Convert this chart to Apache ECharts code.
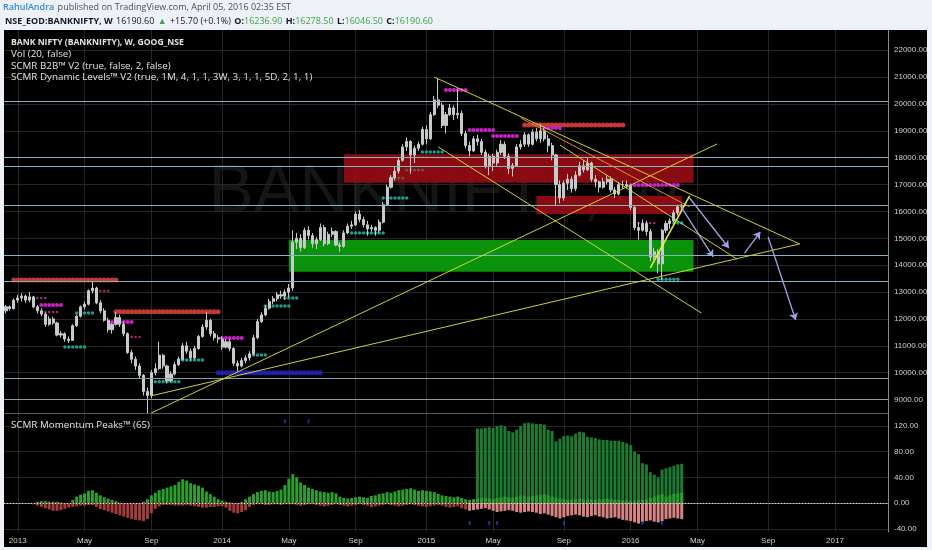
<!DOCTYPE html>
<html><head><meta charset="utf-8">
<script src="https://cdn.jsdelivr.net/npm/echarts@6/dist/echarts.min.js"></script>
<style>html,body{margin:0;padding:0;background:#eef1f6;}#c{width:932px;height:550px;}</style>
</head><body><div id="c"></div>
<script>
// ---------- DATA ----------
const firstWeek = '2012-12-17';
const weekCount = 225;
const monthNames = ['Jan','Feb','Mar','Apr','May','Jun','Jul','Aug','Sep','Oct','Nov','Dec'];
const labelMonths = [0, 4, 8];
const watermark = 'BANKNIFTY, W';
// weekly candles [open, close, low, high]
const ohlc = [
[12300,12450,12200,12520],[12450,12380,12300,12500],[12380,12700,12350,12760],
[12700,12780,12600,12900],[12780,12850,12650,12950],[12850,12700,12600,12900],[12700,12820,12620,13000],
[12820,12450,12400,12860],[12450,12300,12200,12520],[12300,12180,12100,12400],[12180,11800,11700,12250],
[11800,12000,11750,12100],[12000,11850,11780,12080],[11850,11400,11350,11900],[11400,11450,11300,11550],
[11450,11250,11150,11500],[11250,11200,11100,11350],[11200,11750,11180,11800],[11750,12100,11700,12150],[12100,12450,12050,12500],
[12450,12550,12350,12650],[12550,13050,12500,13100],[13050,13150,12950,13400],[13150,12600,12550,13200],
[12600,12300,12200,12700],[12300,11950,11900,12400],[11950,11600,11500,12050],[11600,11800,11450,11850],
[11800,12050,11750,12250],[12050,11800,11700,12150],[11800,11450,11350,11900],[11450,10750,10700,11500],[10750,10500,10350,10850],
[10500,10250,10100,10600],[10250,9900,9800,10350],[9900,9300,9150,9950],[9300,9150,8500,9450],
[9150,10000,9050,10100],[10000,10150,9900,10350],[10150,10650,10100,11150],[10650,10250,10150,10700],[10250,9700,9600,10300],
[9700,9950,9650,10050],[9950,10300,9900,10400],[10300,10500,10250,10600],[10500,11000,10450,11100],
[11000,10800,10700,11150],[10800,10550,10450,10900],[10550,10900,10500,11000],[10900,11350,10850,11400],
[11350,11700,11300,11800],[11700,11950,11600,12250],[11950,11450,11350,12000],[11450,11300,11200,11550],[11300,11250,11100,11400],
[11250,10950,10850,11350],[10950,11150,10900,11250],[11150,10900,10800,11250],[10900,10350,10250,10950],
[10350,10250,10050,10450],[10250,10450,10200,10550],[10450,10550,10350,10650],[10550,10700,10450,10800],
[10700,11300,10650,11400],[11300,11900,11250,12000],[11900,12150,11850,12250],[12150,12400,12100,12500],[12400,12650,12350,12750],
[12650,12750,12550,12850],[12750,12900,12650,13000],[12900,12850,12750,13050],[12850,13000,12700,13100],
[13000,13150,12800,13300],[13150,14850,13050,15300],[14850,15000,14600,15200],[15000,14650,14500,15150],
[14650,15300,14600,15400],[15300,15100,14950,15450],[15100,14800,14650,15200],[14800,14950,14600,15050],[14950,15400,14900,15550],
[15400,14800,14700,15500],[14800,15150,14750,15250],[15150,15250,15050,15400],[15250,14750,14700,15300],
[14750,14700,14500,14850],[14700,15200,14650,15300],[15200,15450,15150,15550],[15450,15500,15350,15650],
[15500,15900,15450,16000],[15900,15700,15600,16050],[15700,15500,15400,15800],[15500,15350,15100,15650],[15350,15400,15250,15500],
[15400,15300,15100,15450],[15300,15600,15200,15700],[15600,16250,15550,16350],[16250,16900,16200,17000],
[16900,17250,16850,17350],[17250,17500,17150,17650],[17500,17900,17400,18000],[17900,18400,17850,18500],
[18400,18600,18250,18750],[18600,18100,17400,18650],[18100,18350,17800,18450],[18350,18500,18250,18600],[18500,19050,18450,19150],
[19050,18700,18500,19200],[18700,19600,18650,19700],[19600,20150,19550,20300],[20150,19950,19850,20950],
[19950,19200,19100,20050],[19200,19600,18900,19700],[19600,19850,19550,20000],[19850,19600,19400,19950],
[19600,19650,19450,20550],[19650,18900,18800,19750],[18900,18450,18350,19000],[18450,18250,18050,18600],[18250,18700,18200,18800],
[18700,18600,18450,18850],[18600,18200,18100,18700],[18200,17700,17600,18300],[17700,18050,17350,18150],
[18050,17800,17500,18150],[17800,18200,17700,18300],[18200,18500,18100,18650],[18500,18050,17950,18600],
[18050,17600,17400,18150],[17600,17700,17300,17800],[17700,18400,17650,18500],[18400,18500,18300,18650],[18500,18850,18400,18950],
[18850,18500,18400,18900],[18500,18950,18450,19050],[18950,18700,18600,19100],[18700,19000,18550,19250],
[19000,18700,18600,19100],[18700,18450,18200,18850],[18450,18100,17900,18550],[18100,17000,16200,18150],[17000,16500,16300,17150],
[16500,17050,16400,17150],[17050,17200,16800,17400],[17200,16850,16700,17300],[16850,17350,16750,17500],
[17350,17700,17300,17850],[17700,17550,17450,17900],[17550,17800,17500,18000],[17800,17200,17100,17850],
[17200,17100,16900,17350],[17100,16900,16700,17150],[16900,17100,16850,17250],[17100,17200,17000,17350],[17200,16800,16700,17300],
[16800,16650,16500,16900],[16650,17000,16600,17100],[17000,17000,16850,17150],[17000,16950,16850,17150],
[16950,16150,16050,17000],[16150,15400,15300,16200],[15400,15300,14950,15600],[15300,15550,15250,15700],
[15550,15250,15100,15650],[15250,14300,14150,15350],[14300,14500,14200,14650],[14500,14050,13700,14600],[14050,15300,13450,15350],
[15300,15550,15200,15650],[15550,15650,15350,15750],[15650,15950,15600,16050],[15950,16174.9,15850,16250],
[16236.9,16190.6,16046.5,16278.5]
];
const priceMin = 8500, priceMax = 22750, priceStep = 250, priceLabelStep = 1000;
const momMin = -45, momMax = 140, momStep = 5, momLabelStep = 40;

// horizontal level lines (price)
const levelLines = [20099.18, 18025, 17686.97, 16232.36, 14377.90, 13386.56, 9793, 9006];
// right-axis tags: [text value, price where the tag sits, kind]
const axisTags = [[20099.18, 20099.18, 'c'], [17686.97, 17914, 'c'], [16232.36, 16612, 'c'], [16190.60, 16203, 'g'], [14377.90, 10772, 'c'], [13386.56, 9953, 'c']];
// zones [from, to, top, bottom]
const redZones = [['2014-08-11', '2016-04-25', 18125, 17069], ['2015-07-20', '2016-04-04', 16574, 15904]];
const greenZones = [['2014-05-05', '2016-04-25', 14937, 13757]];
// dotted level rows [from, to, price]
const redLevels = [['2012-12-31','2013-07-01',13448],['2013-07-01','2013-12-30',12269],['2015-06-29','2015-12-21',19215]];
const blueLevels = [['2013-12-30','2014-06-30',10000]];
const magentaLevels = [['2013-02-18','2013-03-25',12520],['2013-06-24','2013-07-29',11890],['2014-01-06','2014-02-10',11290],
  ['2015-02-09','2015-03-16',20520],['2015-03-23','2015-05-04',19030],['2015-05-04','2015-06-15',18810],['2015-08-03','2015-08-31',19100],['2016-01-04','2016-03-28',16980]];
const pinkLevels = [['2013-02-04','2013-02-25',12780],['2013-02-25','2013-03-18',12260],['2013-05-27','2013-06-17',13040],['2013-07-22','2013-08-12',11330],['2016-01-18','2016-02-15',15570]];
const tealLevels = [['2013-04-01','2013-05-06',10960],['2013-04-22','2013-05-20',12220],['2013-09-09','2013-10-21',9660],['2013-10-21','2013-12-02',10470],
  ['2014-03-03','2014-03-24',10660],['2014-03-24','2014-05-05',12480],['2014-04-28','2014-05-19',12780],['2014-12-29','2015-02-02',18210],
  ['2014-10-20','2014-12-01',16500],['2014-08-25','2014-10-20',15200],['2016-03-21','2016-04-04',15570],['2016-02-22','2016-03-28',13480]];
const faintLevels = [['2014-11-03','2014-11-24',17244],['2014-12-01','2014-12-29',17540]];
// trend lines [from, price, to, price, colour key]
const trendLines = [
  ['2013-09-02', 9140, '2016-10-31', 14790, 'y'],
  ['2013-09-02', 8500, '2016-06-06', 18510, 'y'],
  ['2015-01-19', 21000, '2016-10-31', 14790, 'y'],
  ['2015-01-26', 18400, '2016-05-09', 12220, 'y'],
  ['2015-06-22', 19480, '2016-04-18', 16170, 'o'],
  ['2015-08-31', 18470, '2016-07-11', 14230, 'y'],
  ['2016-02-08', 13900, '2016-04-18', 16580, 'b']
];
const arrows = [
  ['2016-04-04', 16130, '2016-05-30', 14310],
  ['2016-04-18', 16500, '2016-06-27', 14640],
  ['2016-07-25', 14450, '2016-08-22', 15240],
  ['2016-09-05', 15050, '2016-10-24', 11960]
];
// momentum pane
const momGreen = [
0,0,0,0,0,0,0,0,2,3, 3,2,2,2,1,0,0,5,10,13, 15,19,20,16,12,9,7,5,3,1, 0,0,0,0,0,2,6,12,16,20,
22,24,26,28,33,37,35,31,29,27, 24,18,14,10,6,4,2,1,0,0, 2,6,10,14,17,19,20,18,17,19, 21,28,38,45,40,32,28,24,22,20,
18,17,16,17,15,10,8,7,8,9, 10,9,8,11,12,14,15,17,16,18, 20,21,22,23,21,19,20,19,18,17, 14,12,11,10,9,10,8,6,5,6,
7,8,8,7,6,8,9,10,9,8, 10,12,11,10,11,12,13,14,12,10, 8,7,6,5,5,6,7,6,6,5, 5,6,6,7,6,5,5,4,4,3, 3,4,5,6,8,10,12,14,10,12, 14,15,16];
const momNeg = [
0,0,0,0,0,0,0,-2,-4,-6, -8,-10,-12,-12,-11,-9,-7,-6,-5,-4, -4,-3,-3,-6,-9,-11,-13,-15,-17,-19, -21,-23,-25,-26,-27,-28,-25,-16,-9,-5,
-3,-3,-3,-4,-4,-4,-3,-4,-5,-6, -7,-7,-6,-6,-5,-5,-7,-12,-15,-16, -14,-11,-6,-3,-2,-2,-3,-3,-2,-2, -3,-2,-2,-2,-3,-4,-3,-2,-2,-3,
-4,-5,-4,-3,-2,-3,-4,-5,-4,-3, -2,-3,-4,-6,-5,-4,-3,-2,-3,-4, -5,-4,-3,-2,-3,-4,-5,-6,-5,-4, -3,-4,-6,-7,-6,-5,-8,-10,-12,-11,
-10,-9,-8,-10,-12,-14,-13,-12,-11,-12, -14,-15,-14,-13,-14,-15,-17,-16,-18,-20, -22,-24,-22,-20,-19,-18,-19,-21,-22,-20,
-19,-21,-22,-24,-23,-22,-24,-26,-27,-28, -30,-32,-30,-28,-27,-29,-30,-28,-25,-24, -23,-24,-25];
const peakStart = '2015-04-06';
const peakValues = [116,116,117,118,117,120,121,119,112,110,114,120,124,125,124,123,123,122,114,112,96,100,104,105,104,108,111,110,103,102,101,99,98,98,97,97,97,95,93,90,80,76,62,60,48,44,40,52,54,56,58,60,61];
const blueMarks = [['2014-04-28',127],['2014-06-09',127],['2015-03-23',-31],['2015-04-27',-31],['2015-05-11',-31],['2015-09-07',-31],['2016-01-25',-31],['2016-02-29',-31]];

// ---------- BUILD ----------
const weeks = [];
{ const b = new Date(firstWeek + 'T00:00:00Z');
  for (let i = 0; i < weekCount; i++) { const d = new Date(b.getTime() + i * 7 * 864e5); weeks.push(d.toISOString().slice(0, 10)); } }
const isMark = (i) => { const s = weeks[i]; const m = +s.slice(5, 7) - 1, d = +s.slice(8, 10); return d <= 7 && labelMonths.includes(m); };
const fmtX = (v) => { const m = +v.slice(5, 7) - 1; return m === 0 ? v.slice(0, 4) : monthNames[m]; };
function rowPoints(rows, step) {
  const pts = [];
  rows.forEach(([a, b, p]) => { const s = weeks.indexOf(a), e = weeks.indexOf(b); for (let i = s; i <= e; i += step) pts.push([weeks[i], p]); });
  return pts;
}
const peakData = weeks.map(() => null);
{ const s = weeks.indexOf(peakStart); peakValues.forEach((v, k) => { peakData[s + k] = v; }); }

const last = ohlc[ohlc.length - 1], prev = ohlc[ohlc.length - 2];
const chg = last[1] - prev[1];

const FONT = 'Liberation Sans, Arial, sans-serif';
const UI = 'Open Sans, Liberation Sans, sans-serif';
const lineCol = { y: '#d9d93a', o: '#e0952c', b: '#f2f23c' };

const levelMark = levelLines.map(v => ({ yAxis: v, lineStyle: { color: v < 10000 ? '#8a9ca4' : '#86b4c4', width: 1, type: 'solid' } }));
const tagMark = axisTags.map(([val, at, k]) => ({
  yAxis: at, lineStyle: { opacity: 0 },
  label: { show: true, position: 'end', distance: 1, formatter: val.toFixed(2), fontFamily: FONT, fontSize: 8,
    color: '#10232b', backgroundColor: k === 'g' ? '#bdbdbd' : '#8fd0de', padding: [2, 3, 1, 3] }
}));
const trendMark = trendLines.map(([d1, p1, d2, p2, k]) => [
  { coord: [d1, p1], lineStyle: { color: lineCol[k], width: k === 'b' ? 1.6 : 1, type: 'solid', opacity: 0.95 } },
  { coord: [d2, p2] }
]);
const arrowMark = arrows.map(([d1, p1, d2, p2]) => [{ coord: [d1, p1] }, { coord: [d2, p2] }]);
const zoneMark = redZones.map(([a, b, t, bt]) => [{ xAxis: a, yAxis: t, itemStyle: { color: '#960b12', opacity: 0.92 } }, { xAxis: b, yAxis: bt }])
  .concat(greenZones.map(([a, b, t, bt]) => [{ xAxis: a, yAxis: t, itemStyle: { color: '#0c9a0c', opacity: 0.95 } }, { xAxis: b, yAxis: bt }]));

const dotSeries = (name, rows, color, size, step, op) => ({
  name, type: 'scatter', xAxisIndex: 0, yAxisIndex: 0, data: rowPoints(rows, step), symbol: 'circle', symbolSize: size,
  itemStyle: { color, opacity: op }, silent: true, z: 3
});

const priceSplitColors = []; for (let k = 0; k < priceLabelStep / priceStep; k++) priceSplitColors.push('transparent');
priceSplitColors[((9000 - priceMin) / priceStep) % priceSplitColors.length] = '#262626';
const momSplitColors = []; for (let k = 0; k < momLabelStep / momStep; k++) momSplitColors.push('transparent');
momSplitColors[((0 - momMin) / momStep) % momSplitColors.length] = '#262626';

const option = {
  backgroundColor: '#000',
  animation: false,
  grid: [
    { left: 4, top: 30, width: 884, height: 383 },
    { left: 4, top: 413, width: 884, height: 119 }
  ],
  xAxis: [
    { type: 'category', gridIndex: 0, data: weeks, boundaryGap: true,
      axisLine: { show: true, lineStyle: { color: '#555', width: 1 } }, axisTick: { show: false }, axisLabel: { show: false },
      splitLine: { show: true, interval: isMark, alignWithLabel: true, lineStyle: { color: '#262626', width: 1 } } },
    { type: 'category', gridIndex: 1, data: weeks, boundaryGap: true,
      axisLine: { show: true, lineStyle: { color: '#7a7a7a', width: 1 } }, axisTick: { show: false },
      axisLabel: { show: true, interval: isMark, formatter: fmtX, color: '#cfcfcf', fontFamily: FONT, fontSize: 8, margin: 5 },
      splitLine: { show: true, interval: isMark, alignWithLabel: true, lineStyle: { color: '#262626', width: 1 } } }
  ],
  yAxis: [
    { type: 'value', gridIndex: 0, position: 'right', min: priceMin, max: priceMax, interval: priceStep, scale: true,
      axisLine: { show: true, lineStyle: { color: '#8a8a8a' } }, axisTick: { show: false },
      axisLabel: { color: '#cfcfcf', fontFamily: FONT, fontSize: 8, margin: 6,
        formatter: v => (Math.abs(v % priceLabelStep) < 1e-6 && v > priceMin && v < priceMax) ? v.toFixed(2) : '' },
      splitLine: { show: true, lineStyle: { color: priceSplitColors, width: 1 } } },
    { type: 'value', gridIndex: 1, position: 'right', min: momMin, max: momMax, interval: momStep,
      axisLine: { show: true, lineStyle: { color: '#8a8a8a' } }, axisTick: { show: false },
      axisLabel: { color: '#cfcfcf', fontFamily: FONT, fontSize: 8, margin: 6,
        formatter: v => (Math.abs(v % momLabelStep) < 1e-6 && v > momMin && v < momMax) ? v.toFixed(2) : '' },
      splitLine: { show: true, lineStyle: { color: momSplitColors, width: 1 } } }
  ],
  series: [
    { name: 'BANKNIFTY', type: 'candlestick', xAxisIndex: 0, yAxisIndex: 0, data: ohlc, barWidth: 2.6, z: 4,
      itemStyle: { color: '#c6caca', color0: '#c6caca', borderColor: '#c6caca', borderColor0: '#c6caca', borderWidth: 1 },
      markArea: { silent: true, data: zoneMark },
      markLine: { silent: true, symbol: ['none', 'none'], label: { show: false }, animation: false,
        data: levelMark.concat(tagMark).concat(trendMark) } },
    { name: 'arrows', type: 'line', xAxisIndex: 0, yAxisIndex: 0, data: [], z: 6,
      markLine: { silent: true, symbol: ['none', 'arrow'], symbolSize: 7, label: { show: false }, animation: false,
        lineStyle: { color: '#9ea6e6', width: 1.3, type: 'solid' }, data: arrowMark } },
    dotSeries('red', redLevels, '#cc3b36', 5, 1, 0.95),
    dotSeries('blue', blueLevels, '#1f22b0', 5, 1, 0.95),
    dotSeries('magenta', magentaLevels, '#d422d4', 4, 1, 0.95),
    dotSeries('pink', pinkLevels, '#b8307c', 2.5, 1, 0.9),
    dotSeries('teal', tealLevels, '#1fa394', 3.5, 1, 0.95),
    dotSeries('faint', faintLevels, '#6e5858', 3, 1, 0.9),
    { name: 'peaks', type: 'bar', xAxisIndex: 1, yAxisIndex: 1, data: peakData, barWidth: 3, barGap: '-100%',
      itemStyle: { color: '#1d7a33' }, silent: true },
    { name: 'momUp', type: 'bar', xAxisIndex: 1, yAxisIndex: 1, data: momGreen, barWidth: 3, barGap: '-100%',
      itemStyle: { color: '#2c9e30' }, silent: true },
    { name: 'momDown', type: 'bar', xAxisIndex: 1, yAxisIndex: 1, data: momNeg, barWidth: 3, barGap: '-100%',
      itemStyle: { color: p => p.dataIndex < 118 ? '#a63c3c' : '#d98484' }, silent: true,
      markLine: { silent: true, symbol: ['none', 'none'], label: { show: false },
        lineStyle: { color: '#dddddd', type: [1, 2], width: 1 }, data: [{ yAxis: 0 }] } },
    { name: 'marks', type: 'scatter', xAxisIndex: 1, yAxisIndex: 1, data: blueMarks, symbol: 'rect', symbolSize: [2, 4],
      itemStyle: { color: '#2a34d0' }, silent: true }
  ],
  graphic: [
    { type: 'text', x: 446, y: 193, z: -1, silent: true,
      style: { text: watermark, fill: '#151515', font: '68px ' + FONT, align: 'center', verticalAlign: 'middle' } },
    { type: 'rect', shape: { x: 0, y: 0, width: 932, height: 30 }, style: { fill: '#eef1f6' }, z: 100, silent: true },
    { type: 'rect', shape: { x: 0, y: 30, width: 4, height: 520 }, style: { fill: '#eef1f6' }, z: 100, silent: true },
    { type: 'rect', shape: { x: 927, y: 30, width: 5, height: 520 }, style: { fill: '#eef1f6' }, z: 100, silent: true },
    { type: 'rect', shape: { x: 0, y: 547, width: 932, height: 3 }, style: { fill: '#eef1f6' }, z: 100, silent: true },
    { type: 'text', x: 3, y: 7, z: 101, silent: true,
      style: { text: '{a|RahulAndra} {b|published on TradingView.com, April 05, 2016 02:35 EST}', verticalAlign: 'middle',
        rich: { a: { fill: '#2d8bd6', fontSize: 9, fontFamily: UI, fontWeight: 600 }, b: { fill: '#4b4f56', fontSize: 9, fontFamily: UI } } } },
    { type: 'text', x: 5, y: 21, z: 101, silent: true,
      style: { text: '{k|NSE_EOD:BANKNIFTY, W} {v|' + last[1].toFixed(2) + '} {g|▲} {v|+' + chg.toFixed(2) + ' (+' + (chg / prev[1] * 100).toFixed(1) + '%)} ' +
          '{k|O:}{n|' + last[0].toFixed(2) + '} {k|H:}{n|' + last[3].toFixed(2) + '} {k|L:}{n|' + last[2].toFixed(2) + '} {k|C:}{n|' + last[1].toFixed(2) + '}',
        verticalAlign: 'middle',
        rich: { k: { fill: '#131722', fontSize: 9, fontFamily: UI, fontWeight: 700 }, v: { fill: '#131722', fontSize: 9, fontFamily: UI },
          g: { fill: '#3aa64a', fontSize: 9, fontFamily: UI }, n: { fill: '#3aa64a', fontSize: 9, fontFamily: UI } } } },
    { type: 'text', x: 11, y: 43, z: 50, silent: true, style: { text: 'BANK NIFTY (BANKNIFTY), W, GOOG_NSE', fill: '#e2e2e2', font: 'bold 8.6px ' + UI, verticalAlign: 'middle' } },
    { type: 'text', x: 11, y: 54.5, z: 50, silent: true, style: { text: 'Vol (20, false)', fill: '#e2e2e2', font: '9.8px ' + UI, verticalAlign: 'middle' } },
    { type: 'text', x: 11, y: 66, z: 50, silent: true, style: { text: 'SCMR B2B™ V2 (true, false, 2, false)', fill: '#e2e2e2', font: '9.8px ' + UI, verticalAlign: 'middle' } },
    { type: 'text', x: 11, y: 77.5, z: 50, silent: true, style: { text: 'SCMR Dynamic Levels™ V2 (true, 1M, 4, 1, 1, 3W, 3, 1, 1, 5D, 2, 1, 1)', fill: '#e2e2e2', font: '9.8px ' + UI, verticalAlign: 'middle' } },
    { type: 'text', x: 11, y: 425, z: 50, silent: true, style: { text: 'SCMR Momentum Peaks™ (65)', fill: '#e2e2e2', font: '9.8px ' + UI, verticalAlign: 'middle' } }
  ]
};
const chart = echarts.init(document.getElementById('c'), null, { renderer: 'canvas', width: 932, height: 550 });
chart.setOption(option);
</script>
</body></html>
